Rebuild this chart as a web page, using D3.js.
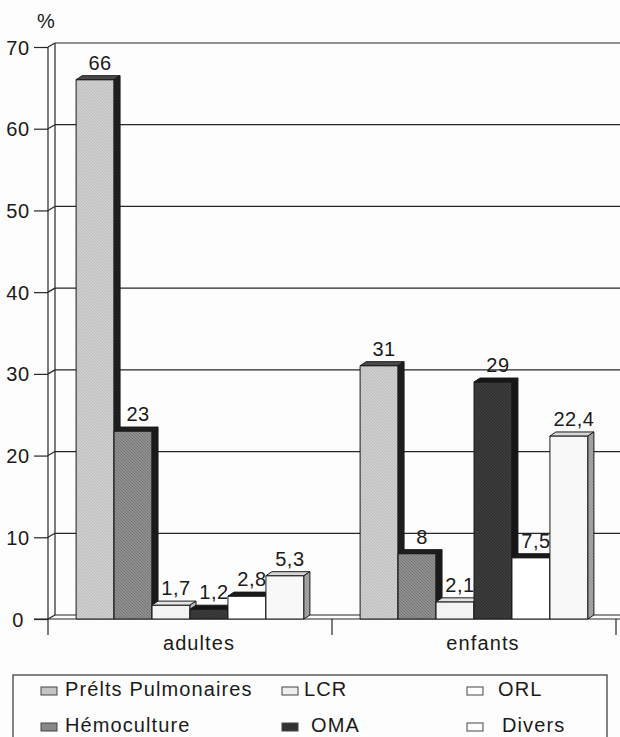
<!DOCTYPE html>
<html>
<head>
<meta charset="utf-8">
<script src="https://cdn.jsdelivr.net/npm/d3@7/dist/d3.min.js"></script>
<style>
  html, body { margin: 0; padding: 0; background: #fdfdfd; }
  svg { display: block; }
  text { font-family: "Liberation Sans", Arial, sans-serif; fill: #1a1a1a; }
</style>
</head>
<body>
<svg id="chart" width="620" height="737"></svg>
<script>
// Data
const categories = ["adultes", "enfants"];
const seriesNames = ["Prélts Pulmonaires", "Hémoculture", "LCR", "OMA", "ORL", "Divers"];
const adultesValues = [66, 23, 1.7, 1.2, 2.8, 5.3];
const enfantsValues = [31, 8, 2.1, 29, 7.5, 22.4];
const yTickValues = [0, 10, 20, 30, 40, 50, 60, 70];

const valuesByCategory = { adultes: adultesValues, enfants: enfantsValues };

// Layout
const axisX = 48;          // front vertical axis
const y0 = 619, yTop = 47; // front baseline and top
const depthX = 6, depthY = -4;
const wallX = axisX + 7, wallDY = -4;
const rightEdge = 620;
const fontSize = 20, letterSpacing = 1.1;
const lineColor = "#262626";

const svg = d3.select("#chart");
const defs = svg.append("defs");

function hatch(id, base, line) {
  const p = defs.append("pattern")
    .attr("id", id).attr("patternUnits", "userSpaceOnUse")
    .attr("width", 3).attr("height", 3);
  p.append("rect").attr("width", 3).attr("height", 3).attr("fill", base);
  p.append("path").attr("d", "M0,0 L3,3 M-1,2 L1,4 M2,-1 L4,1")
    .attr("stroke", line).attr("stroke-width", 0.7);
  return `url(#${id})`;
}

const styles = {
  "Prélts Pulmonaires": { front: hatch("h-pulm", "#cfcfcf", "#b3b3b3"), top: "#4a4a4a", side: "#1e1e1e", legend: "#c4c4c4" },
  "Hémoculture":        { front: hatch("h-hemo", "#8f8f8f", "#6c6c6c"), top: "#1e1e1e", side: "#1a1a1a", legend: "#888" },
  "LCR":                { front: "#f3f3f3", top: "#e4e4e4", side: "#bdbdbd", legend: "#eee" },
  "OMA":                { front: hatch("h-oma", "#3d3d3d", "#262626"), top: "#151515", side: "#151515", legend: "#333" },
  "ORL":                { front: "#ffffff", top: "#1a1a1a", side: "#1a1a1a", legend: "#fff" },
  "Divers":             { front: "#f8f8f8", top: "#d6d6d6", side: hatch("h-div", "#a8a8a8", "#858585"), legend: "#fff" }
};

// Scales
const y = d3.scaleLinear().domain([0, 70]).range([y0, yTop]);
const x0 = d3.scaleBand().domain(categories).range([axisX, 616]);
const x1 = d3.scaleBand().domain(seriesNames).range([0, x0.bandwidth()]).paddingOuter(0.74);

// Back wall grid lines with connectors to the front axis ticks
const grid = svg.append("g").attr("stroke", lineColor).attr("stroke-width", 1.2).attr("fill", "none");
yTickValues.forEach(t => {
  const yy = y(t);
  grid.append("line").attr("x1", wallX).attr("x2", rightEdge)
    .attr("y1", yy + wallDY).attr("y2", yy + wallDY);
  grid.append("line").attr("x1", axisX).attr("x2", wallX)
    .attr("y1", yy).attr("y2", yy + wallDY);
});
// back wall left edge
grid.append("line").attr("x1", wallX).attr("x2", wallX)
  .attr("y1", y(70) + wallDY).attr("y2", y0 + wallDY);
// front floor edge
grid.append("line").attr("x1", 34).attr("x2", rightEdge).attr("y1", y0).attr("y2", y0);
// front vertical axis
grid.append("line").attr("x1", axisX).attr("x2", axisX).attr("y1", y(70)).attr("y2", y0 + 16);
// category boundary ticks
[x0("enfants"), x0("enfants") + x0.bandwidth()].forEach(xx => {
  grid.append("line").attr("x1", xx).attr("x2", xx).attr("y1", y0).attr("y2", y0 + 16);
});

// Y axis ticks and labels
const yAxis = d3.axisLeft(y).tickValues(yTickValues).tickSize(14).tickSizeOuter(0).tickFormat(d3.format("d"));
const yAxisG = svg.append("g").attr("transform", `translate(${axisX},0)`).call(yAxis);
yAxisG.select(".domain").remove();
yAxisG.selectAll(".tick line").attr("stroke", lineColor).attr("stroke-width", 1.2);
yAxisG.selectAll(".tick text")
  .attr("x", -30).attr("dy", "0.35em")
  .attr("text-anchor", "middle")
  .style("font-size", fontSize + "px").style("letter-spacing", "0.6px")
  .style("font-family", "'Liberation Sans', Arial, sans-serif").attr("fill", "#1a1a1a");

svg.append("text").attr("x", 46).attr("y", 28).attr("text-anchor", "middle")
  .style("font-size", fontSize + "px").text("%");

// X axis category labels
const xAxis = d3.axisBottom(x0).tickSize(0).tickPadding(0);
const xAxisG = svg.append("g").attr("transform", `translate(9,${y0})`).call(xAxis);
xAxisG.select(".domain").remove();
xAxisG.selectAll(".tick text")
  .attr("y", 31).attr("dy", 0)
  .style("font-size", fontSize + "px").style("letter-spacing", letterSpacing + "px")
  .style("font-family", "'Liberation Sans', Arial, sans-serif").attr("fill", "#1a1a1a");

// 3D bars
const fmt = v => String(v).replace(".", ",");
const barsG = svg.append("g");
categories.forEach(cat => {
  const vals = valuesByCategory[cat];
  seriesNames.forEach((s, i) => {
    const v = vals[i];
    const st = styles[s];
    const x = x0(cat) + x1(s);
    const w = x1.bandwidth();
    const yt = y(v);
    const g = barsG.append("g").attr("stroke", "#1a1a1a").attr("stroke-width", 1).attr("stroke-linejoin", "round");
    g.append("rect").attr("x", x).attr("y", yt).attr("width", w).attr("height", y0 - yt).attr("fill", st.front);
    g.append("polygon")
      .attr("points", [[x, yt], [x + w, yt], [x + w + depthX, yt + depthY], [x + depthX, yt + depthY]].map(p => p.join(",")).join(" "))
      .attr("fill", st.top);
    g.append("polygon")
      .attr("points", [[x + w, yt], [x + w + depthX, yt + depthY], [x + w + depthX, y0 + depthY], [x + w, y0]].map(p => p.join(",")).join(" "))
      .attr("fill", st.side);
  });
});

// Value labels
const labelsG = svg.append("g");
categories.forEach(cat => {
  valuesByCategory[cat].forEach((v, i) => {
    const s = seriesNames[i];
    labelsG.append("text")
      .attr("x", x0(cat) + x1(s) + x1.bandwidth() / 2 + 5)
      .attr("y", y(v) - 10)
      .attr("text-anchor", "middle")
      .style("font-size", fontSize + "px").style("letter-spacing", "0.5px")
      .text(fmt(v));
  });
});

// Legend
const legendG = svg.append("g");
legendG.append("rect").attr("x", 13).attr("y", 675).attr("width", 594).attr("height", 90)
  .attr("fill", "none").attr("stroke", "#333").attr("stroke-width", 1.2);
const legendLayout = [
  { sx: 41, tx: 65, row: 0 },   // Prélts Pulmonaires
  { sx: 41, tx: 65, row: 1 },   // Hémoculture
  { sx: 282, tx: 304, row: 0 }, // LCR
  { sx: 282, tx: 311, row: 1 }, // OMA
  { sx: 467, tx: 498, row: 0 }, // ORL
  { sx: 467, tx: 502, row: 1 }  // Divers
];
seriesNames.forEach((s, i) => {
  const L = legendLayout[i];
  const base = 696 + L.row * 36;
  legendG.append("rect").attr("x", L.sx).attr("y", base - 9).attr("width", 16).attr("height", 8)
    .attr("fill", styles[s].legend).attr("stroke", "#444").attr("stroke-width", 1);
  legendG.append("text").attr("x", L.tx).attr("y", base)
    .style("font-size", fontSize + "px").style("letter-spacing", letterSpacing + "px")
    .text(s);
});
</script>
</body>
</html>
